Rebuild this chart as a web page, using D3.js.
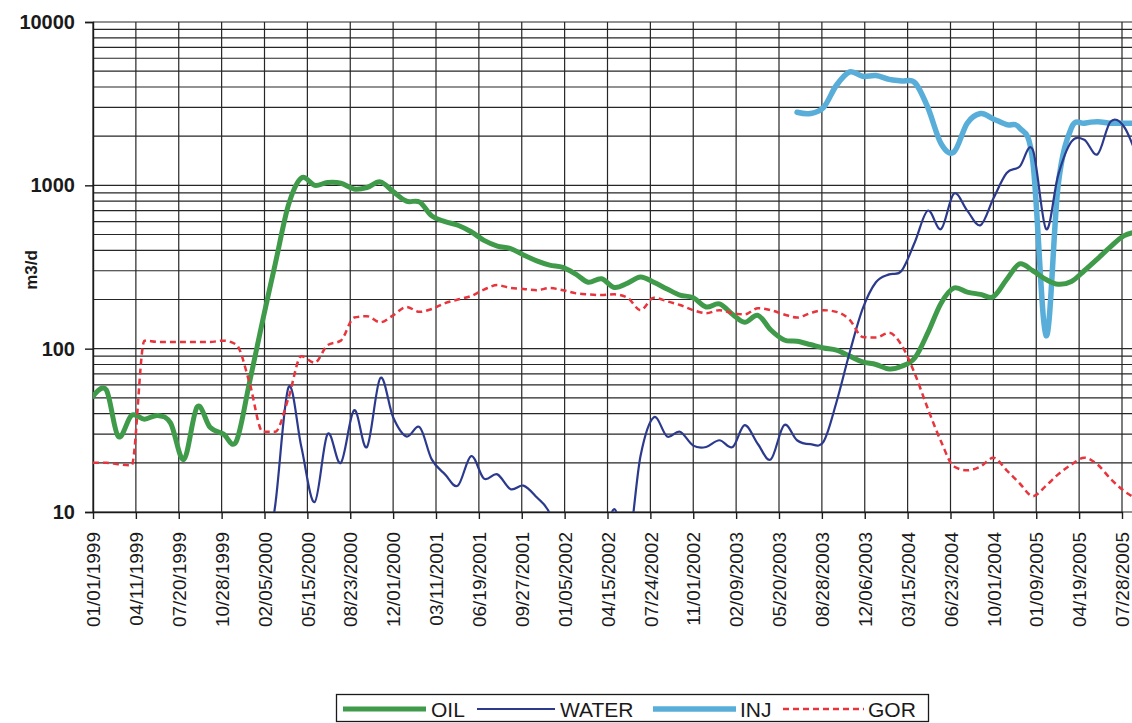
<!DOCTYPE html>
<html>
<head>
<meta charset="utf-8">
<script src="https://cdn.jsdelivr.net/npm/d3@7"></script>
<style>
  html, body { margin: 0; padding: 0; background: #ffffff; }
  svg { display: block; }
  text { font-family: "Liberation Sans", Arial, sans-serif; fill: #1a1a1a; }
</style>
</head>
<body>
<svg id="chart" width="1132" height="723"></svg>
<script>
// Date axis labels (every 100 days)
const tickLabels = [
  "01/01/1999","04/11/1999","07/20/1999","10/28/1999","02/05/2000","05/15/2000",
  "08/23/2000","12/01/2000","03/11/2001","06/19/2001","09/27/2001","01/05/2002",
  "04/15/2002","07/24/2002","11/01/2002","02/09/2003","05/20/2003","08/28/2003",
  "12/06/2003","03/15/2004","06/23/2004","10/01/2004","01/09/2005","04/19/2005",
  "07/28/2005"
];
const yTickLabels = ["10", "100", "1000", "10000"];

// Monthly samples
const months = [
  "1999-01","1999-02","1999-03","1999-04","1999-05","1999-06","1999-07","1999-08","1999-09","1999-10","1999-11","1999-12",
  "2000-01","2000-02","2000-03","2000-04","2000-05","2000-06","2000-07","2000-08","2000-09","2000-10","2000-11","2000-12",
  "2001-01","2001-02","2001-03","2001-04","2001-05","2001-06","2001-07","2001-08","2001-09","2001-10","2001-11","2001-12",
  "2002-01","2002-02","2002-03","2002-04","2002-05","2002-06","2002-07","2002-08","2002-09","2002-10","2002-11","2002-12",
  "2003-01","2003-02","2003-03","2003-04","2003-05","2003-06","2003-07","2003-08","2003-09","2003-10","2003-11","2003-12",
  "2004-01","2004-02","2004-03","2004-04","2004-05","2004-06","2004-07","2004-08","2004-09","2004-10","2004-11","2004-12",
  "2005-01","2005-02","2005-03","2005-04","2005-05","2005-06","2005-07","2005-08","2005-09"
];

// Oil rate, m3/d
const oil = [
  51, 56, 29, 39, 37, 39, 35, 21, 44, 33, 30, 27,
  62, 150, 330, 760, 1110, 1000, 1040, 1030, 950, 970, 1050, 915,
  800, 790, 650, 600, 570, 520, 460, 425, 410, 375, 345, 325,
  315, 285, 255, 268, 237, 252, 275, 255, 232, 213, 205, 180,
  188, 162, 145, 160, 130, 113, 111, 106, 101, 98, 90, 83,
  80, 75, 78, 88, 125, 190, 235, 222, 215, 208, 265, 330,
  300, 265, 248, 258, 300, 355, 420, 490, 520
];

// Water rate, m3/d
const water = [
  null, null, null, null, null, null, null, null, null, null, null, null,
  null, 4, 11, 58, 25, 11.5, 30, 20, 42, 25, 66, 38,
  29, 33, 21, 17, 14.5, 22, 16, 17, 13.8, 14.5, 12.3, 9.8,
  5, 4.5, 5, 6, 10.4, 6, 22, 38, 29, 31, 25.5, 25,
  27.5, 25, 34, 26, 21, 34, 27.5, 26, 27, 47, 95, 175,
  255, 285, 300, 450, 700, 540, 890, 700, 570, 830, 1190, 1300,
  1650, 540, 1150, 1850, 1900, 1550, 2450, 2300, 1500
];

// Injection rate, m3/d
const inj = [
  null, null, null, null, null, null, null, null, null, null, null, null,
  null, null, null, null, null, null, null, null, null, null, null, null,
  null, null, null, null, null, null, null, null, null, null, null, null,
  null, null, null, null, null, null, null, null, null, null, null, null,
  null, null, null, null, null, null, 2800, 2750, 3000, 4100, 4950, 4650,
  4700, 4450, 4350, 4250, 3000, 1800, 1600, 2400, 2750, 2550, 2350, 2250,
  1400, 120, 1000, 2250, 2400, 2450, 2400, 2400, 2400
];

// Gas-oil ratio
const gor = [
  20, 20, 19.6, 19.3, 112, 110, 110, 110, 110, 110, 112, 106,
  62, 31, 31, 50, 90, 82, 105, 112, 155, 158, 145, 160,
  180, 168, 175, 190, 200, 210, 230, 245, 235, 232, 228, 235,
  228, 218, 215, 213, 215, 205, 172, 205, 195, 185, 172, 165,
  172, 165, 162, 177, 172, 162, 155, 165, 172, 168, 150, 118,
  117, 125, 105, 70, 43, 27, 19, 18, 19, 21.5, 18, 15,
  12.5, 14.5, 17, 19.5, 21.5, 19.5, 16, 13.5, 12
];

const svg = d3.select("#chart");
const W = 1132, H = 723;
const plotLeft = 93, plotTop = 22, plotBottom = 512;

const parseTick = d3.utcParse("%m/%d/%Y");
const parseMonth = d3.utcParse("%Y-%m");
const tickDates = tickLabels.map(parseTick);
const monthDates = months.map(parseMonth);

const x = d3.scaleUtc()
  .domain([tickDates[0], tickDates[tickDates.length - 1]])
  .range([plotLeft, 1122]);
const y = d3.scaleLog().domain([10, 10000]).range([plotBottom, plotTop]);

svg.append("rect").attr("width", W).attr("height", H).attr("fill", "#ffffff");

// Horizontal grid: every 1..9 step of each decade
const gridVals = [];
for (let p = 10; p < 10000; p *= 10) {
  for (let k = 1; k < 10; k++) gridVals.push(p * k);
}
gridVals.push(10000);

const grid = svg.append("g").attr("stroke", "#262626").attr("stroke-width", 1.2);
grid.selectAll("line.h").data(gridVals).join("line")
  .attr("class", "h")
  .attr("x1", plotLeft).attr("x2", W)
  .attr("y1", d => y(d)).attr("y2", d => y(d));

// Vertical grid at each date tick
grid.selectAll("line.v").data(tickDates).join("line")
  .attr("class", "v")
  .attr("x1", d => x(d)).attr("x2", d => x(d))
  .attr("y1", plotTop).attr("y2", plotBottom);

// Y axis
const yAxis = d3.axisLeft(y)
  .tickValues(yTickLabels.map(Number))
  .tickFormat((d, i) => yTickLabels[i])
  .tickSize(8)
  .tickPadding(10);
const gy = svg.append("g").attr("transform", `translate(${plotLeft},0)`).call(yAxis);
gy.select(".domain").attr("stroke", "#1a1a1a").attr("stroke-width", 1.4);
gy.selectAll(".tick line").attr("stroke", "#1a1a1a").attr("stroke-width", 1.4);
gy.selectAll(".tick text")
  .attr("font-size", 20).attr("font-weight", "bold")
  .attr("fill", "#1a1a1a")
  .style("font-family", "'Liberation Sans', Arial, sans-serif");

// X axis
const xAxis = d3.axisBottom(x)
  .tickValues(tickDates)
  .tickFormat((d, i) => tickLabels[i])
  .tickSize(7)
  .tickSizeOuter(0);
const gx = svg.append("g").attr("transform", `translate(0,${plotBottom})`).call(xAxis);
gx.select(".domain").attr("stroke", "#1a1a1a").attr("stroke-width", 1.4);
gx.selectAll(".tick line").attr("stroke", "#1a1a1a").attr("stroke-width", 1.4);
gx.selectAll(".tick text")
  .attr("font-size", 19)
  .attr("fill", "#1a1a1a")
  .style("font-family", "'Liberation Sans', Arial, sans-serif")
  .attr("text-anchor", "end")
  .attr("transform", "translate(0,20) rotate(-90)")
  .attr("x", 0).attr("y", 0).attr("dy", "0.35em");

// Y axis title
svg.append("text")
  .attr("transform", "translate(31,270) rotate(-90)")
  .attr("text-anchor", "middle")
  .attr("dominant-baseline", "central")
  .attr("font-size", 17).attr("font-weight", "bold")
  .text("m3/d");

// Series
svg.append("defs").append("clipPath").attr("id", "plotClip")
  .append("rect").attr("x", plotLeft).attr("y", plotTop)
  .attr("width", W - plotLeft).attr("height", plotBottom - plotTop);

const plot = svg.append("g").attr("clip-path", "url(#plotClip)");

const smooth = d3.curveCatmullRom.alpha(0);
const series = [
  { name: "INJ",   values: inj,   color: "#58aed8", width: 5.5, dash: null,  curve: smooth },
  { name: "OIL",   values: oil,   color: "#3f9a4a", width: 5,   dash: null,  curve: smooth },
  { name: "WATER", values: water, color: "#2c3a8e", width: 2.2, dash: null,  curve: smooth },
  { name: "GOR",   values: gor,   color: "#e8343d", width: 2.5, dash: "6,4", curve: d3.curveMonotoneX }
];

series.forEach(s => {
  const pts = monthDates.map((d, i) => ({ date: d, v: s.values[i] }));
  const line = d3.line()
    .defined(d => d.v != null)
    .x(d => x(d.date))
    .y(d => y(d.v))
    .curve(s.curve);
  plot.append("path")
    .datum(pts)
    .attr("fill", "none")
    .attr("stroke", s.color)
    .attr("stroke-width", s.width)
    .attr("stroke-linejoin", "round")
    .attr("stroke-linecap", s.dash ? "butt" : "round")
    .attr("stroke-dasharray", s.dash)
    .attr("d", line);
});

// Legend
const legend = svg.append("g");
legend.append("rect")
  .attr("x", 336.5).attr("y", 694.5).attr("width", 592).attr("height", 27)
  .attr("fill", "#ffffff").attr("stroke", "#1a1a1a").attr("stroke-width", 1.3);

const legendItems = [
  { label: "OIL",   color: "#3f9a4a", width: 5,   dash: null,  x1: 343, x2: 426, tx: 431 },
  { label: "WATER", color: "#2c3a8e", width: 2.2, dash: null,  x1: 477, x2: 555, tx: 560 },
  { label: "INJ",   color: "#58aed8", width: 5.5, dash: null,  x1: 653, x2: 736, tx: 740 },
  { label: "GOR",   color: "#e8343d", width: 2.5, dash: "6,4", x1: 783, x2: 864, tx: 868 }
];
const ly = 709;
legendItems.forEach(it => {
  legend.append("line")
    .attr("x1", it.x1).attr("x2", it.x2).attr("y1", ly).attr("y2", ly)
    .attr("stroke", it.color).attr("stroke-width", it.width)
    .attr("stroke-dasharray", it.dash);
  legend.append("text")
    .attr("x", it.tx).attr("y", ly)
    .attr("dominant-baseline", "central")
    .attr("font-size", 21)
    .text(it.label);
});
</script>
</body>
</html>
